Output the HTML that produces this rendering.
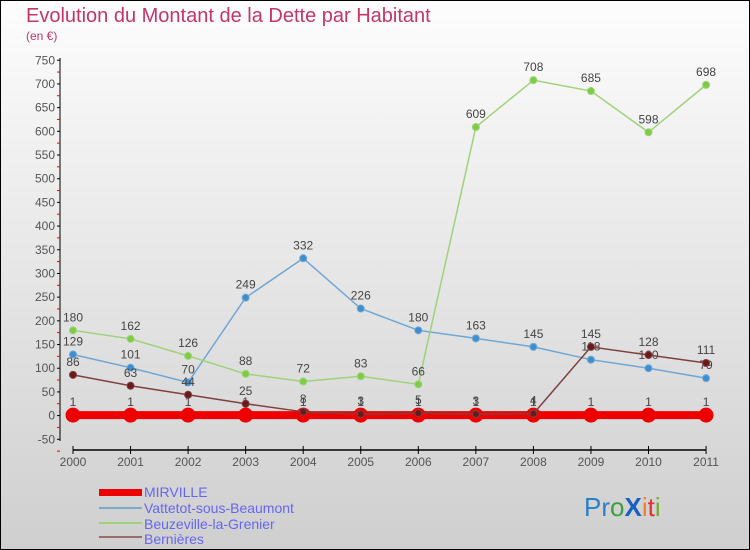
<!DOCTYPE html>
<html><head><meta charset="utf-8"><style>
body{margin:0;width:750px;height:550px;overflow:hidden}
svg{display:block;font-family:"Liberation Sans",sans-serif}
</style></head><body>
<svg id="c" width="750" height="550">
<defs><linearGradient id="bg" x1="0" y1="0" x2="0" y2="1"><stop offset="0" stop-color="#fdfdfd"/><stop offset="1" stop-color="#cfcfcf"/></linearGradient></defs>
<rect x="0.5" y="0.5" width="749" height="549" fill="url(#bg)" stroke="#000"/>
<text x="26" y="22" font-size="20" fill="#c2366a">Evolution du Montant de la Dette par Habitant</text>
<text x="26" y="40" font-size="12" fill="#c2366a">(en €)</text>
<g id="axes"></g><g id="series"></g>
<g>
<rect x="99" y="489" width="43" height="7" fill="#e00"/>
<text x="144" y="497" font-size="14" fill="#6666ee">MIRVILLE</text>
<line x1="99" y1="508" x2="142" y2="508" stroke="#7aa9cc" stroke-width="2"/>
<text x="144" y="513" font-size="14" fill="#6666ee">Vattetot-sous-Beaumont</text>
<line x1="99" y1="523" x2="142" y2="523" stroke="#9fd27a" stroke-width="2"/>
<text x="144" y="529" font-size="14" fill="#6666ee">Beuzeville-la-Grenier</text>
<line x1="99" y1="537" x2="142" y2="537" stroke="#9a6d6d" stroke-width="2"/>
<text x="144" y="544" font-size="14" fill="#6666ee">Bernières</text>
</g>
<text x="584" y="516" font-size="26"><tspan fill="#2a7fc8">Pr</tspan><tspan fill="#3aa040">o</tspan><tspan fill="#1a60c0" font-weight="bold">X</tspan><tspan fill="#f08020">i</tspan><tspan fill="#e03030">t</tspan><tspan fill="#70b030">i</tspan></text>
</svg>
<script>
const years=[2000,2001,2002,2003,2004,2005,2006,2007,2008,2009,2010,2011];
const yTicks=[-50,0,50,100,150,200,250,300,350,400,450,500,550,600,650,700,750];
const mirville=[1,1,1,1,1,1,1,1,1,1,1,1];
const vattetot=[129,101,70,249,332,226,180,163,145,118,100,79];
const beuzeville=[180,162,126,88,72,83,66,609,708,685,598,698];
const bernieres=[86,63,44,25,8,3,5,3,4,145,128,111];
const NS="http://www.w3.org/2000/svg";
const xs=i=>73+i*57.55, ys=v=>415.6-v*0.4738;
function el(t,a,p){const e=document.createElementNS(NS,t);for(const k in a)e.setAttribute(k,a[k]);p.appendChild(e);return e;}
const ax=document.getElementById('axes'),sg=document.getElementById('series');
let yl=el('line',{x1:60,y1:58,x2:60,y2:441,stroke:'#000'},ax);


yTicks.forEach(v=>{const y=ys(v);
 el('line',{x1:57,y1:y,x2:60,y2:y,stroke:'#000'},ax);
 el('line',{x1:57,y1:y+11.8,x2:60,y2:y+11.8,stroke:'#e00'},ax);
 const t=el('text',{x:55,y:y+4,'text-anchor':'end','font-size':12,fill:'#555'},ax);t.textContent=v;
 
 });
let xl=el('line',{x1:73,y1:450,x2:706,y2:450,stroke:'#000','stroke-width':1.5},ax);


years.forEach((yr,i)=>{const x=xs(i);el('line',{x1:x,y1:446,x2:x,y2:454,stroke:'#000'},ax);
 const t=el('text',{x:x,y:466,'text-anchor':'middle','font-size':12,fill:'#555'},ax);t.textContent=yr;
 
 });
function series(d,name,col,dot,w,r){const g=el('g',{},sg);
 
 
 el('polyline',{points:d.map((v,i)=>xs(i)+','+ys(v)).join(' '),fill:'none',stroke:col,'stroke-width':w},g);
 d.forEach((v,i)=>{const c=el('circle',{cx:xs(i),cy:ys(v),r:r,fill:dot,stroke:col,'stroke-width':1},g);
  
  
  const t=el('text',{x:xs(i),y:ys(v)-9,'text-anchor':'middle','font-size':12,fill:'#444'},g);t.textContent=v;
  
  });}
series(mirville,'mirville-series','#e00','#e00',8,7);
series(vattetot,'vattetot-series','#6fa6d4','#3d8fd0',1.5,3.5);
series(beuzeville,'beuzeville-series','#9fd27a','#7ccc44',1.5,3.5);
series(bernieres,'bernieres-series','#804040','#6a1a1a',1.5,3.5);
</script>
</body></html>
